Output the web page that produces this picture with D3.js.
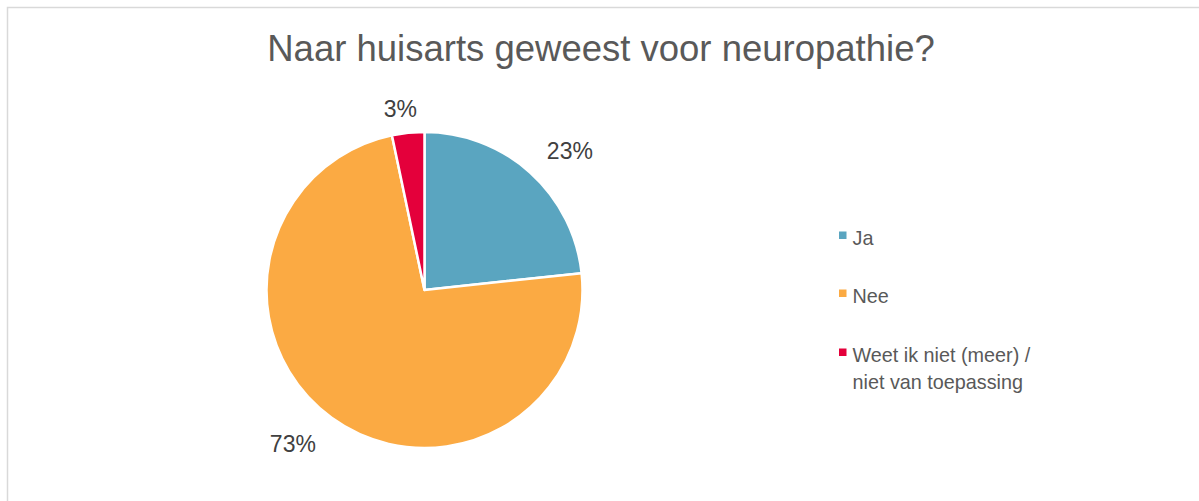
<!DOCTYPE html>
<html><head><meta charset="utf-8">
<script src="https://cdn.jsdelivr.net/npm/d3@7"></script>
<style>html,body{margin:0;padding:0;background:#fff;}svg{display:block;font-family:"Liberation Sans",Arial,sans-serif;}</style>
</head><body><svg id="c" width="1199" height="501"></svg>
<script>
const title = "Naar huisarts geweest voor neuropathie?";
const categories = ["Ja", "Nee", "Weet ik niet (meer) / niet van toepassing"];
const legendLines = [["Ja"], ["Nee"], ["Weet ik niet (meer) /", "niet van toepassing"]];
const values = [23.3, 73.4, 3.3];
const labels = ["23%", "73%", "3%"];
const colors = ["#5aa5c0", "#fbaa43", "#e4003b"];

const svg = d3.select("#c");
svg.append("rect").attr("x", 7.5).attr("y", 7.5).attr("width", 1200).attr("height", 500)
  .attr("fill", "#fff").attr("stroke", "#d9d9d9").attr("stroke-width", 1.5);

svg.append("text").attr("x", 601).attr("y", 61).attr("text-anchor", "middle")
  .attr("font-size", 36.5).attr("fill", "#595959").text(title);

const cx = 424.5, cy = 290, r = 158;
const pie = d3.pie().sort(null).value(d => d)(values);
const arc = d3.arc().innerRadius(0).outerRadius(r);
const g = svg.append("g").attr("transform", `translate(${cx},${cy})`);
g.selectAll("path").data(pie).join("path")
  .attr("d", arc).attr("fill", (d, i) => colors[i])
  .attr("stroke", "#fff").attr("stroke-width", 2.5).attr("stroke-linejoin", "round");

const Rx = 197.5, fs = 23;
g.selectAll("text.lbl").data(pie).join("text").attr("class", "lbl")
  .attr("font-size", fs).attr("fill", "#404040").attr("text-anchor", "middle")
  .text((d, i) => labels[i])
  .each(function (d) {
    const a = (d.startAngle + d.endAngle) / 2;
    const w = this.getComputedTextLength();
    const c = Math.cos(a);
    const Ry = c > 0 ? 200 - 18 * c : 190;
    const x = Math.sin(a) * (Rx + w * 0.5) - 2;
    const y = -c * Ry;
    d3.select(this).attr("x", x).attr("y", y + fs * 0.35);
  });

const ly = [245, 303, 362];
const lg = svg.append("g");
legendLines.forEach((lines, i) => {
  lg.append("rect").attr("x", 839).attr("y", ly[i] - 13.5).attr("width", 7.5).attr("height", 7.5).attr("fill", colors[i]);
  lines.forEach((t, j) => {
    lg.append("text").attr("x", 852.5).attr("y", ly[i] + j * 27).attr("font-size", 19.8)
      .attr("fill", "#595959").text(t);
  });
});
</script></body></html>
